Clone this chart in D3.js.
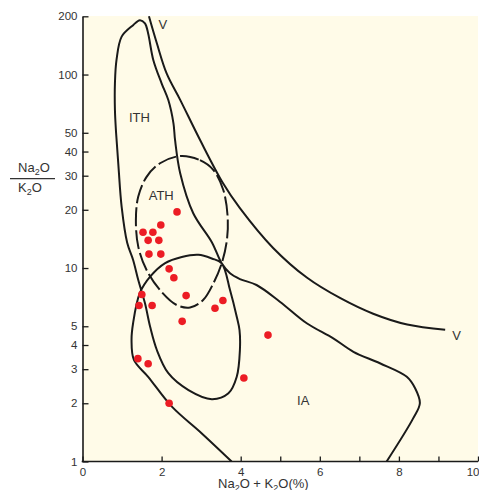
<!DOCTYPE html>
<html>
<head>
<meta charset="utf-8">
<script src="https://cdn.jsdelivr.net/npm/d3@7"></script>
<style>
  body { margin: 0; background: #fff; }
  text { font-family: "Liberation Sans", Arial, sans-serif; }
</style>
</head>
<body>
<div id="chart"></div>
<script>
// samples: Na2O+K2O (%) and Na2O/K2O
const sampleAlk = [2.39, 1.98, 1.53, 1.78, 1.66, 1.93, 1.68, 1.98, 2.19, 2.31, 1.50,
                   2.62, 1.43, 1.76, 3.55, 3.35, 2.52, 4.69, 1.40, 1.66, 4.08, 2.19];
const sampleRatio = [19.5, 16.7, 15.3, 15.3, 13.9, 13.9, 11.8, 11.8, 9.9, 8.9, 7.3,
                     7.2, 6.4, 6.4, 6.8, 6.2, 5.3, 4.5, 3.4, 3.2, 2.7, 2.0];

// field boundaries [Na2O+K2O, Na2O/K2O]
const boundaryV = [[1.68, 200], [1.88, 145], [2.13, 101], [2.47, 74], [2.97, 46], [3.55, 27.5],
                   [3.98, 20.4], [4.82, 12.7], [5.68, 8.9], [6.51, 7.0], [7.35, 5.8], [8.21, 5.1], [9.17, 4.8]];

const boundaryITH = [[7.69, 1.0], [8.36, 1.67], [8.53, 2.0], [8.41, 2.39], [8.20, 2.74], [7.52, 3.22],
                     [6.85, 3.69], [6.34, 4.33], [5.67, 5.18], [4.99, 6.70], [4.40, 8.17], [3.98, 8.77],
                     [3.73, 9.39], [3.52, 10.58], [3.27, 13.6], [2.80, 19.2], [2.47, 30.9], [2.34, 45.9],
                     [2.30, 55.9], [2.17, 73.8], [2.00, 90.1], [1.79, 119], [1.66, 163], [1.58, 184],
                     [1.45, 191], [1.28, 180], [0.99, 157], [0.86, 119], [0.82, 90], [0.82, 65.5],
                     [0.85, 49.7], [0.91, 33.4], [0.99, 20.7], [1.13, 13.5], [1.28, 11.0], [1.41, 8.67],
                     [1.58, 6.57], [1.71, 4.97], [1.88, 3.77], [2.17, 2.86], [2.68, 2.34], [3.27, 2.10],
                     [3.69, 2.25], [3.90, 2.74], [3.98, 3.77], [3.97, 4.78], [3.90, 5.60], [3.73, 7.69],
                     [3.52, 10.58], [3.27, 11.2], [2.93, 11.7], [2.51, 11.4], [2.09, 10.6], [1.71, 9.02],
                     [1.45, 7.43], [1.28, 5.20], [1.24, 4.25], [1.30, 3.35], [1.66, 2.74], [2.26, 1.92],
                     [3.01, 1.40], [3.77, 1.0]];

const boundaryATH = [[2.47, 37.9], [2.97, 36.1], [3.31, 32.1], [3.56, 25.3], [3.67, 18.4], [3.65, 13.9],
                     [3.52, 10.58], [3.31, 8.34], [3.05, 6.83], [2.72, 6.25], [2.38, 6.44], [1.96, 7.69],
                     [1.62, 9.76], [1.41, 12.9], [1.35, 17.7], [1.41, 23.4], [1.62, 29.6], [1.96, 34.8]];

const fieldNames = ["V", "V", "ITH", "ATH", "IA"];
const fieldAlk = [2.03, 9.46, 1.44, 1.99, 5.58];
const fieldRatio = [182, 4.5, 60, 23.8, 2.08];

const xTicks = [0, 2, 4, 5, 6, 7, 8, 9, 10];
const yTicks = [1, 2, 3, 4, 5, 10, 20, 30, 40, 50, 100, 200];

//**********************************************************************************************
//                                  CONSTANTS FOR CHART SIZE
//**********************************************************************************************
const WIDTH = 479;
const HEIGHT = 490;
const LEFT = 82.5;
const RIGHT = 478;
const TOP = 16;
const BOTTOM = 461.5;

const svg = d3.select('#chart')
    .append('svg')
    .attr('width', WIDTH)
    .attr('height', HEIGHT)
;

const scaleX = d3.scaleLinear()
    .domain([0, 10])
    .range([LEFT, RIGHT]);

const scaleY = d3.scaleLog()
    .domain([1, 200])
    .range([BOTTOM, 16.3]);

svg.append('rect')
    .attr('x', LEFT)
    .attr('y', TOP)
    .attr('width', RIGHT - LEFT)
    .attr('height', BOTTOM - TOP)
    .attr('fill', '#fffbe8')
;

svg.append('clipPath')
    .attr('id', 'plot-clip')
    .append('rect')
    .attr('x', LEFT)
    .attr('y', TOP - 2)
    .attr('width', RIGHT - LEFT)
    .attr('height', BOTTOM - TOP + 2)
;

let curves = svg.append('g').attr('clip-path', 'url(#plot-clip)');

let line = d3.line()
    .x(d => scaleX(d[0]))
    .y(d => scaleY(d[1]))
    .curve(d3.curveCatmullRom.alpha(0.5));

curves.append('path')
    .attr('d', line(boundaryV))
    .attr('fill', 'none')
    .attr('stroke', '#1a1a1a')
    .attr('stroke-width', 2)
;

curves.append('path')
    .attr('d', line(boundaryITH))
    .attr('fill', 'none')
    .attr('stroke', '#1a1a1a')
    .attr('stroke-width', 2)
;

let closedLine = d3.line()
    .x(d => scaleX(d[0]))
    .y(d => scaleY(d[1]))
    .curve(d3.curveCatmullRomClosed.alpha(0.5));

curves.append('path')
    .attr('d', closedLine(boundaryATH))
    .attr('fill', 'none')
    .attr('stroke', '#1a1a1a')
    .attr('stroke-width', 2)
    .attr('stroke-dasharray', '19,4')
;

// samples
svg.append('g')
    .selectAll('circle')
    .data(sampleAlk)
    .join('circle')
    .attr('cx', d => scaleX(d))
    .attr('cy', (d, i) => scaleY(sampleRatio[i]))
    .attr('r', 3.8)
    .attr('fill', '#ec1c24')
;

// field names
svg.append('g')
    .selectAll('text')
    .data(fieldNames)
    .join('text')
    .text(d => d)
    .attr('x', (d, i) => scaleX(fieldAlk[i]))
    .attr('y', (d, i) => scaleY(fieldRatio[i]))
    .attr('dy', '0.36em')
    .attr('text-anchor', 'middle')
    .style('font-size', '13px')
    .attr('fill', '#333')
;

// axes
let xAxis = svg.append('g')
    .attr('transform', `translate(0, ${BOTTOM})`)
    .call(d3.axisBottom(scaleX)
        .tickValues(xTicks)
        .tickFormat(d => d % 2 === 0 ? d : '')
        .tickSizeInner(-5)
        .tickSizeOuter(0)
        .tickPadding(6))
;

let yAxis = svg.append('g')
    .attr('transform', `translate(${LEFT}, 0)`)
    .call(d3.axisLeft(scaleY)
        .tickValues(yTicks)
        .tickFormat(d3.format('d'))
        .tickSizeInner(-6)
        .tickSizeOuter(0)
        .tickPadding(5))
;

for (let ax of [xAxis, yAxis]) {
    ax.select('.domain')
        .attr('stroke', '#1a1a1a')
        .attr('stroke-width', 1.6);
    ax.selectAll('.tick line')
        .attr('stroke', '#1a1a1a')
        .attr('stroke-width', 1.3);
    ax.selectAll('.tick text')
        .attr('fill', '#333')
        .style('font-size', '11.5px')
        .style('font-family', '"Liberation Sans", Arial, sans-serif');
}
// extend the x axis line under the y axis
xAxis.select('.domain').attr('d', `M${LEFT - 0.8},0H${RIGHT}`);
// last label sits against the right edge
xAxis.selectAll('.tick text')
    .filter(d => d === 10)
    .attr('text-anchor', 'end')
    .attr('x', 1);

// axis titles
let xTitle = svg.append('text')
    .attr('x', 218)
    .attr('y', 488)
    .style('font-size', '13px')
    .attr('fill', '#333');
xTitle.append('tspan').text('Na');
xTitle.append('tspan').text('2').attr('dy', 3).style('font-size', '9px');
xTitle.append('tspan').text('O + K').attr('dy', -3);
xTitle.append('tspan').text('2').attr('dy', 3).style('font-size', '9px');
xTitle.append('tspan').text('O(%)').attr('dy', -3);

let yTop = svg.append('text')
    .attr('x', 18)
    .attr('y', 172)
    .style('font-size', '13px')
    .attr('fill', '#333');
yTop.append('tspan').text('Na');
yTop.append('tspan').text('2').attr('dy', 3).style('font-size', '9px');
yTop.append('tspan').text('O').attr('dy', -3);

svg.append('line')
    .attr('x1', 10)
    .attr('x2', 55)
    .attr('y1', 178.7)
    .attr('y2', 178.7)
    .attr('stroke', '#333')
    .attr('stroke-width', 1.2);

let yBottom = svg.append('text')
    .attr('x', 18)
    .attr('y', 192)
    .style('font-size', '13px')
    .attr('fill', '#333');
yBottom.append('tspan').text('K');
yBottom.append('tspan').text('2').attr('dy', 3).style('font-size', '9px');
yBottom.append('tspan').text('O').attr('dy', -3);
</script>
</body>
</html>
